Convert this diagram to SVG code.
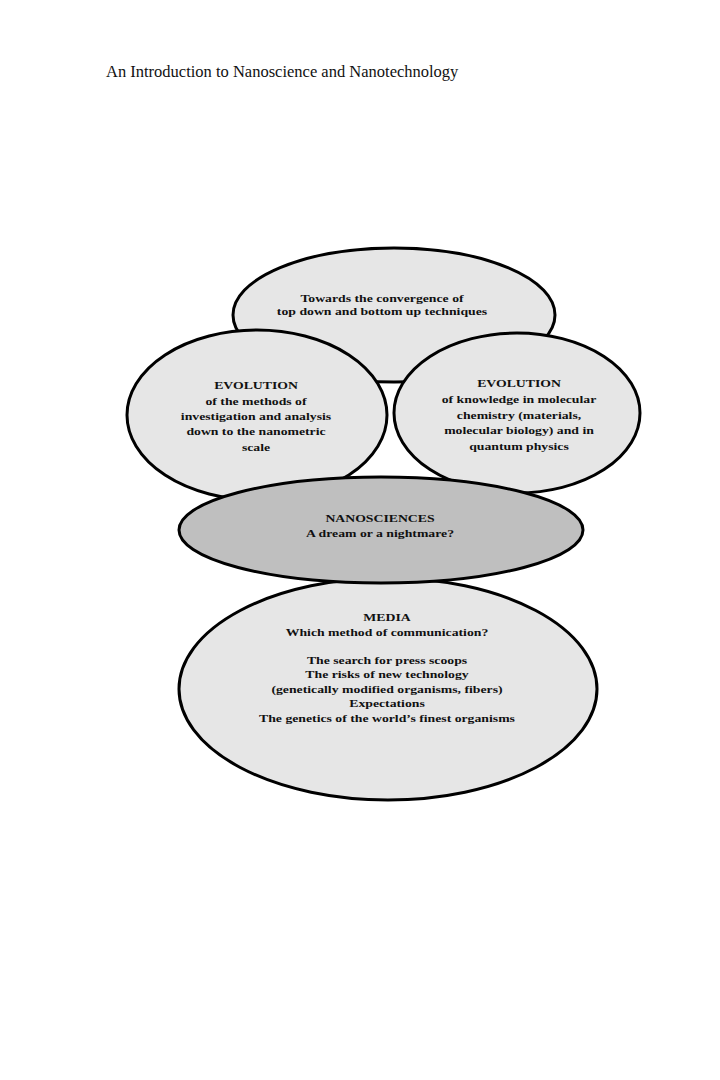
<svg xmlns="http://www.w3.org/2000/svg" width="720" height="1080" viewBox="0 0 720 1080">
<style>
.bg{fill:#ffffff}
.ell{fill:#e6e6e6;stroke:#000;stroke-width:3}
.ell.dark{fill:#bfbfbf}
.lbl{font-family:"Liberation Serif","Times New Roman",serif;font-weight:bold;font-size:11px;fill:#111;text-anchor:middle}
.hdr{font-family:"Liberation Serif","Times New Roman",serif;font-size:16.5px;fill:#111}
</style>
<rect class="bg" x="0" y="0" width="720" height="1080"/>
<text class="hdr" x="106" y="77">An Introduction to Nanoscience and Nanotechnology</text>
<g id="connectors"></g>
<g id="node-top">
<ellipse class="ell" cx="394" cy="315" rx="161" ry="67"/>
<text class="lbl" transform="translate(382,0) scale(1.25,1)"><tspan x="0" y="302">Towards the convergence of</tspan><tspan x="0" y="315">top down and bottom up techniques</tspan></text>
</g>
<g id="node-left">
<ellipse class="ell" cx="257" cy="415" rx="130" ry="85"/>
<text class="lbl" transform="translate(256,0) scale(1.25,1)"><tspan x="0" y="389">EVOLUTION</tspan><tspan x="0" y="405">of the methods of</tspan><tspan x="0" y="420">investigation and analysis</tspan><tspan x="0" y="435">down to the nanometric</tspan><tspan x="0" y="451">scale</tspan></text>
</g>
<g id="node-right">
<ellipse class="ell" cx="517" cy="413" rx="123" ry="80"/>
<text class="lbl" transform="translate(519,0) scale(1.25,1)"><tspan x="0" y="387">EVOLUTION</tspan><tspan x="0" y="403">of knowledge in molecular</tspan><tspan x="0" y="419">chemistry (materials,</tspan><tspan x="0" y="434">molecular biology) and in</tspan><tspan x="0" y="450">quantum physics</tspan></text>
</g>
<g id="node-media">
<ellipse class="ell" cx="388" cy="689" rx="209" ry="111"/>
<text class="lbl" transform="translate(387,0) scale(1.25,1)"><tspan x="0" y="621">MEDIA</tspan><tspan x="0" y="636">Which method of communication?</tspan><tspan x="0" y="664">The search for press scoops</tspan><tspan x="0" y="678">The risks of new technology</tspan><tspan x="0" y="693">(genetically modified organisms, fibers)</tspan><tspan x="0" y="707">Expectations</tspan><tspan x="0" y="722">The genetics of the world’s finest organisms</tspan></text>
</g>
<g id="node-nano">
<ellipse class="ell dark" cx="381" cy="530" rx="202" ry="53"/>
<text class="lbl" transform="translate(380,0) scale(1.25,1)"><tspan x="0" y="522">NANOSCIENCES</tspan><tspan x="0" y="537">A dream or a nightmare?</tspan></text>
</g>
</svg>
